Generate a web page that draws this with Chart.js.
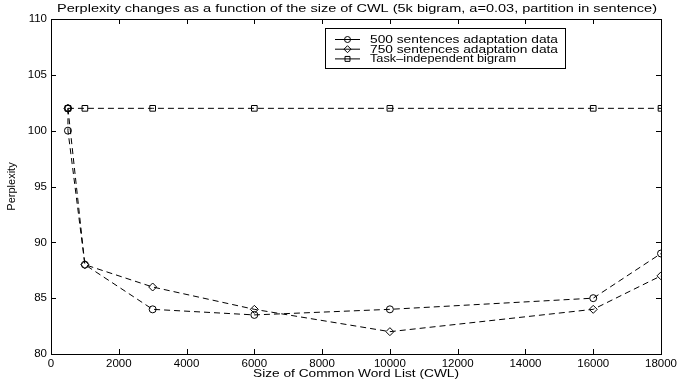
<!DOCTYPE html>
<html lang="en">
<head>
<meta charset="utf-8">
<title>Perplexity vs CWL size</title>
<script src="https://cdn.jsdelivr.net/npm/chart.js"></script>
<style>
  html, body { margin: 0; padding: 0; background: #fff; }
  #wrap { width: 680px; height: 381px; }
</style>
</head>
<body>
<div id="wrap"><canvas id="cwlChart" width="680" height="381"></canvas></div>
<script>
// data
const sizes500 = [500, 500, 1000, 3000, 6000, 10000, 16000, 18000];
const ppl500 = [102, 100, 88, 84, 83.5, 84, 85, 89];
const sizes750 = [500, 1000, 3000, 6000, 10000, 16000, 18000];
const ppl750 = [102, 88, 86, 84, 82, 84, 87];
const sizesBigram = [500, 1000, 3000, 6000, 10000, 16000, 18000];
const pplBigram = [102, 102, 102, 102, 102, 102, 102];
const seriesNames = ['500 sentences adaptation data', '750 sentences adaptation data', 'Task\u2013independent bigram'];
const xTicks = [0, 2000, 4000, 6000, 8000, 10000, 12000, 14000, 16000, 18000];
const yTicks = [80, 85, 90, 95, 100, 105, 110];

const FONT = 'Liberation Sans, Arial, Helvetica, sans-serif';
const toPoints = (xs, ys) => xs.map((x, i) => ({ x: x, y: ys[i] }));

const makeSet = (label, xs, ys, style, r) => ({
    label: label,
    data: toPoints(xs, ys),
    showLine: true,
    borderColor: '#000',
    borderWidth: 1,
    borderDash: [6, 4],
    pointStyle: style,
    pointRadius: r,
    pointHoverRadius: r,
    pointBorderColor: '#000',
    pointBorderWidth: 1,
    pointBackgroundColor: 'rgba(0,0,0,0)'
});

// the original figure is a bit stretched sideways, so wide texts get squeezed to its width
const stretchText = (ctx, text, x, y, width, align) => {
    const w = ctx.measureText(text).width;
    const sx = width / w;
    ctx.save();
    ctx.translate(x, y);
    ctx.scale(sx, 1);
    ctx.textAlign = align;
    ctx.fillText(text, 0, 0);
    ctx.restore();
};

// box, inward ticks, titles and legend like the matlab original
const matlabFrame = {
    id: 'matlabFrame',
    afterDatasetsDraw(chart) {
        const { ctx, chartArea: a, scales } = chart;
        ctx.save();
        ctx.strokeStyle = '#000';
        ctx.lineWidth = 1;
        ctx.strokeRect(a.left + 0.5, a.top + 0.5, a.right - a.left, a.bottom - a.top);
        ctx.beginPath();
        xTicks.forEach(v => {
            const px = Math.round(scales.x.getPixelForValue(v)) + 0.5;
            ctx.moveTo(px, a.bottom); ctx.lineTo(px, a.bottom - 5);
            ctx.moveTo(px, a.top); ctx.lineTo(px, a.top + 5);
        });
        yTicks.forEach(v => {
            const py = Math.round(scales.y.getPixelForValue(v)) + 0.5;
            ctx.moveTo(a.left, py); ctx.lineTo(a.left + 5, py);
            ctx.moveTo(a.right, py); ctx.lineTo(a.right - 5, py);
        });
        ctx.stroke();

        ctx.fillStyle = '#000';
        ctx.textBaseline = 'middle';
        const midX = (a.left + a.right) / 2;

        // title
        ctx.font = '11px ' + FONT;
        stretchText(ctx, 'Perplexity changes as a function of the size of CWL (5k bigram, a=0.03, partition in sentence)', midX + 1, 9, 600, 'center');

        // x axis title
        ctx.font = '11px ' + FONT;
        stretchText(ctx, 'Size of Common Word List (CWL)', midX, 374, 206, 'center');

        // legend
        const lx = 325, ly = 28, lw = 240, lh = 40;
        ctx.fillStyle = '#fff';
        ctx.fillRect(lx, ly, lw, lh);
        ctx.strokeRect(lx + 0.5, ly + 0.5, lw, lh);
        ctx.font = '10.5px ' + FONT;
        chart.data.datasets.forEach((ds, i) => {
            const y = 39.5 + i * 9.7;
            ctx.beginPath();
            ctx.setLineDash([]);
            ctx.moveTo(335, y); ctx.lineTo(360, y);
            ctx.stroke();
            ctx.fillStyle = 'rgba(0,0,0,0)';
            Chart.helpers.drawPoint(ctx, {
                pointStyle: ds.pointStyle, radius: ds.pointRadius - 0.5, borderWidth: 1, rotation: 0
            }, 347.5, y);
            ctx.fillStyle = '#000';
            const target = i === 2 ? 146 : 188;
            stretchText(ctx, ds.label, 370, y + 0.5, target, 'left');
        });
        ctx.restore();
    }
};

const ctx = document.getElementById('cwlChart').getContext('2d');
const cwlChart = new Chart(ctx, {
    type: 'scatter',
    data: {
        datasets: [
            makeSet(seriesNames[0], sizes500, ppl500, 'circle', 3.5),
            makeSet(seriesNames[1], sizes750, ppl750, 'rectRot', 4),
            makeSet(seriesNames[2], sizesBigram, pplBigram, 'rect', 4)
        ]
    },
    options: {
        responsive: false,
        animation: false,
        devicePixelRatio: 1,
        layout: { padding: { top: 19, right: 16, left: 0, bottom: 0 } },
        plugins: {
            legend: { display: false },
            tooltip: { enabled: false },
            title: { display: false }
        },
        scales: {
            x: {
                type: 'linear',
                min: 0, max: 18000,
                afterBuildTicks: s => { s.ticks = xTicks.map(v => ({ value: v })); },
                afterFit: s => { s.height = 27; },
                grid: { display: false, drawTicks: false, tickLength: 0 },
                border: { display: false },
                ticks: { color: '#000', font: { family: FONT, size: 11.5 }, padding: 3, maxRotation: 0, callback: v => v }
            },
            y: {
                type: 'linear',
                min: 80, max: 110,
                afterBuildTicks: s => { s.ticks = yTicks.map(v => ({ value: v })); },
                afterFit: s => { s.width = 51; },
                grid: { display: false, drawTicks: false, tickLength: 0 },
                border: { display: false },
                ticks: { color: '#000', font: { family: FONT, size: 11.5 }, padding: 4 },
                title: { display: true, text: 'Perplexity', color: '#000', font: { family: FONT, size: 11 }, padding: 5 }
            }
        }
    },
    plugins: [matlabFrame]
});
</script>
</body>
</html>
